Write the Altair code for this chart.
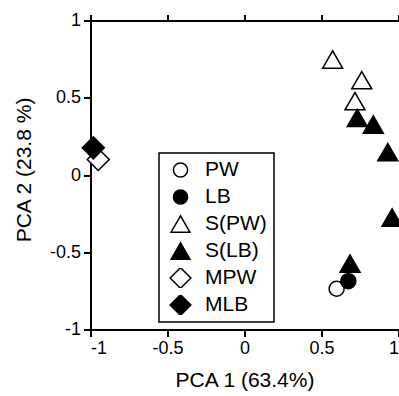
import altair as alt
import pandas as pd

# ---- data ----
groups = ["PW", "LB", "S(PW)", "S(LB)", "MPW", "MLB"]

pw_x = [0.595]
pw_y = [-0.733]
lb_x = [0.671]
lb_y = [-0.684]
spw_x = [0.569, 0.758, 0.714]
spw_y = [0.751, 0.617, 0.481]
slb_x = [0.729, 0.833, 0.927, 0.955, 0.682]
slb_y = [0.373, 0.330, 0.151, -0.272, -0.570]
mpw_x = [-0.953]
mpw_y = [0.104]
mlb_x = [-0.985]
mlb_y = [0.179]

tick_values = [-1, -0.5, 0, 0.5, 1]

# ---- styles ----
TRI = "M0,-1.155L-1.333,1.155L1.333,1.155Z"
DIA = "M0,-1.467L1.467,0L0,1.467L-1.467,0Z"
shape_range = ["circle", "circle", TRI, TRI, DIA, DIA]
fill_range = ["white", "black", "white", "black", "white", "black"]
stroke_range = ["black"] * 6
FONT = "Liberation Sans"

# open markers first so filled ones sit on top
series = [
    ("PW", pw_x, pw_y), ("S(PW)", spw_x, spw_y), ("MPW", mpw_x, mpw_y),
    ("LB", lb_x, lb_y), ("S(LB)", slb_x, slb_y), ("MLB", mlb_x, mlb_y),
]
rows = []
for g, xs, ys in series:
    for a, b in zip(xs, ys):
        rows.append({"group": g, "x": a, "y": b})
df = pd.DataFrame(rows)

label_expr = "datum.value == 0 ? '0' : (datum.value < 0 ? '-' : '') + format(abs(datum.value), '')"

xscale = alt.Scale(domain=[-1, 1], nice=False, zero=False)
yscale = alt.Scale(domain=[-1, 1], nice=False, zero=False)

axis_common = dict(
    values=tick_values, grid=False, domainColor="black", domainWidth=2,
    tickColor="black", tickWidth=2, tickSize=7, labelFont=FONT, labelFontSize=18,
    labelColor="black", titleFont=FONT, titleFontSize=21, titleColor="black",
    titleFontWeight="normal", labelExpr=label_expr, labelPadding=3, translate=0,
)
yaxis = alt.Axis(title="PCA 2 (23.8 %)", titleX=-56, titleY=149, titleAngle=270,
                 titleBaseline="bottom", titleAlign="center", **axis_common)

legend = alt.Legend(
    title=None, orient="none", legendX=68, legendY=132,
    strokeColor="black", fillColor="white", padding=7,
    labelFont=FONT, labelFontSize=21, labelColor="black", labelOffset=14,
    symbolSize=200, symbolStrokeColor="black", symbolStrokeWidth=1.5,
    symbolOpacity=1, rowPadding=6, clipHeight=20, symbolOffset=4,
)

points = alt.Chart(df).mark_point(
    filled=True, strokeWidth=1.5, opacity=1, size=225
).encode(
    x=alt.X("x:Q", scale=xscale,
            axis=alt.Axis(title="PCA 1 (63.4%)", titlePadding=12, **axis_common)),
    y=alt.Y("y:Q", scale=yscale, axis=yaxis),
    shape=alt.Shape("group:N", scale=alt.Scale(domain=groups, range=shape_range), legend=legend),
    fill=alt.Fill("group:N", scale=alt.Scale(domain=groups, range=fill_range), legend=legend),
    stroke=alt.Stroke("group:N", scale=alt.Scale(domain=groups, range=stroke_range), legend=legend),
)

top_axis = alt.Chart(df).mark_point(opacity=0).encode(
    x=alt.X("x:Q", scale=xscale,
            axis=alt.Axis(orient="top", title=None, labels=False, values=tick_values,
                          grid=False, domainColor="black", domainWidth=2, translate=0,
                          tickColor="black", tickWidth=2, tickSize=6)),
    y=alt.Y("y:Q", scale=yscale, axis=yaxis),
)

chart = alt.layer(points, top_axis).resolve_axis(x="independent").properties(
    width=308, height=309,
    autosize=alt.AutoSizeParams(type="none"),
    padding={"left": 91, "top": 21, "right": 0, "bottom": 66},
    background="white",
).configure_view(strokeOpacity=0, strokeWidth=0).configure_legend(
    strokeWidth=1.5
).configure_axis(domainColor="black", domainWidth=2)

chart.save("out.html", embed_options={"renderer": "svg", "actions": False})
